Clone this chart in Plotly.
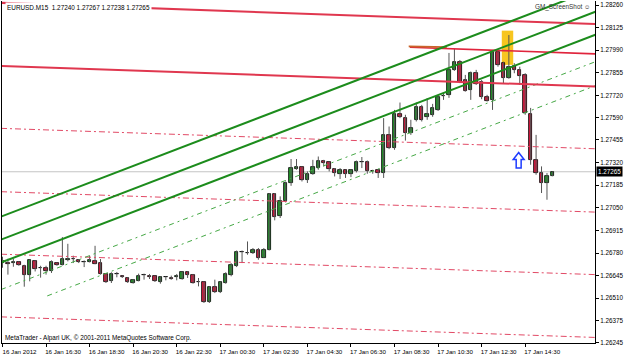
import plotly.graph_objects as go

# ---------------- data (EURUSD M15, 16 Jan 2012 14:30 -> 17 Jan 2012 15:45) ----------------
time_tick_index = [0, 8, 16, 24, 32, 40, 48, 56, 64, 72, 80, 88, 96]
time_tick_labels = ["16 Jan 2012", "16 Jan 16:30", "16 Jan 18:30", "16 Jan 20:30", "16 Jan 22:30",
                    "17 Jan 00:30", "17 Jan 02:30", "17 Jan 04:30", "17 Jan 06:30", "17 Jan 08:30",
                    "17 Jan 10:30", "17 Jan 12:30", "17 Jan 14:30"]

opens = [1.26734, 1.26722, 1.26722, 1.26724, 1.26704, 1.26651, 1.26730, 1.26691, 1.26691, 1.26670,
         1.26720, 1.26710, 1.26736, 1.26744, 1.26740, 1.26724, 1.26726, 1.26734, 1.26720, 1.26655,
         1.26611, 1.26655, 1.26645, 1.26631, 1.26601, 1.26615, 1.26646, 1.26643, 1.26641, 1.26609,
         1.26635, 1.26633, 1.26639, 1.26625, 1.26665, 1.26651, 1.26607, 1.26607, 1.26486, 1.26577,
         1.26545, 1.26601, 1.26651, 1.26704, 1.26784, 1.26780, 1.26780, 1.26800, 1.26750, 1.26800,
         1.27132, 1.26999, 1.27088, 1.27198, 1.27281, 1.27293, 1.27217, 1.27253, 1.27287, 1.27331,
         1.27321, 1.27281, 1.27253, 1.27273, 1.27253, 1.27267, 1.27321, 1.27326, 1.27267, 1.27273,
         1.27257, 1.27485, 1.27406, 1.27609, 1.27587, 1.27496, 1.27575, 1.27650, 1.27594, 1.27605,
         1.27634, 1.27715, 1.27724, 1.27873, 1.27922, 1.27813, 1.27754, 1.27853, 1.27803, 1.27710,
         1.27694, 1.27982, 1.27913, 1.27823, 1.27897, 1.27873, 1.27843, 1.27611, 1.27336, 1.27257,
         1.27198, 1.27240]
highs = [1.26758, 1.26746, 1.26746, 1.26730, 1.26710, 1.26740, 1.26736, 1.26704, 1.26704, 1.26736,
         1.26724, 1.26875, 1.26835, 1.26764, 1.26744, 1.26736, 1.26764, 1.26823, 1.26744, 1.26661,
         1.26665, 1.26667, 1.26646, 1.26635, 1.26625, 1.26657, 1.26657, 1.26655, 1.26645, 1.26641,
         1.26641, 1.26645, 1.26655, 1.26670, 1.26670, 1.26655, 1.26631, 1.26611, 1.26581, 1.26621,
         1.26611, 1.26665, 1.26720, 1.26795, 1.26795, 1.26849, 1.26810, 1.26810, 1.26810, 1.27138,
         1.27138, 1.27118, 1.27207, 1.27341, 1.27341, 1.27297, 1.27267, 1.27336, 1.27356, 1.27336,
         1.27326, 1.27287, 1.27287, 1.27277, 1.27281, 1.27332, 1.27353, 1.27332, 1.27277, 1.27281,
         1.27585, 1.27535, 1.27634, 1.27678, 1.27605, 1.27575, 1.27678, 1.27664, 1.27704, 1.27670,
         1.27724, 1.27736, 1.27974, 1.27998, 1.27932, 1.27843, 1.27863, 1.27873, 1.27813, 1.27724,
         1.27992, 1.27992, 1.27922, 1.28081, 1.27913, 1.27892, 1.27853, 1.27646, 1.27485, 1.27297,
         1.27257, 1.27267]
lows = [1.26692, 1.26651, 1.26698, 1.26704, 1.26579, 1.26611, 1.26670, 1.26633, 1.26651, 1.26661,
        1.26704, 1.26706, 1.26730, 1.26720, 1.26720, 1.26696, 1.26724, 1.26713, 1.26651, 1.26601,
        1.26601, 1.26635, 1.26631, 1.26601, 1.26597, 1.26611, 1.26621, 1.26625, 1.26607, 1.26597,
        1.26617, 1.26621, 1.26617, 1.26621, 1.26631, 1.26597, 1.26581, 1.26482, 1.26482, 1.26541,
        1.26541, 1.26597, 1.26641, 1.26696, 1.26720, 1.26770, 1.26774, 1.26740, 1.26750, 1.26796,
        1.26975, 1.26989, 1.27082, 1.27181, 1.27277, 1.27207, 1.27198, 1.27247, 1.27277, 1.27297,
        1.27267, 1.27237, 1.27222, 1.27228, 1.27233, 1.27261, 1.27287, 1.27253, 1.27253, 1.27228,
        1.27228, 1.27400, 1.27396, 1.27585, 1.27451, 1.27485, 1.27565, 1.27565, 1.27575, 1.27593,
        1.27628, 1.27694, 1.27706, 1.27867, 1.27794, 1.27743, 1.27694, 1.27783, 1.27698, 1.27684,
        1.27634, 1.27892, 1.27794, 1.27820, 1.27853, 1.27783, 1.27605, 1.27307, 1.27247, 1.27138,
        1.27098, 1.27238]
closes = [1.26722, 1.26713, 1.26728, 1.26710, 1.26651, 1.26736, 1.26685, 1.26692, 1.26670, 1.26724,
          1.26706, 1.26744, 1.26744, 1.26744, 1.26724, 1.26724, 1.26736, 1.26716, 1.26655, 1.26607,
          1.26655, 1.26655, 1.26635, 1.26605, 1.26621, 1.26645, 1.26646, 1.26639, 1.26611, 1.26637,
          1.26635, 1.26627, 1.26641, 1.26665, 1.26646, 1.26601, 1.26605, 1.26486, 1.26577, 1.26545,
          1.26605, 1.26655, 1.26710, 1.26784, 1.26784, 1.26782, 1.26800, 1.26750, 1.26800, 1.27132,
          1.26995, 1.27092, 1.27198, 1.27287, 1.27293, 1.27217, 1.27253, 1.27291, 1.27331, 1.27317,
          1.27281, 1.27257, 1.27273, 1.27253, 1.27273, 1.27326, 1.27323, 1.27267, 1.27267, 1.27257,
          1.27482, 1.27406, 1.27607, 1.27594, 1.27496, 1.27525, 1.27650, 1.27575, 1.27611, 1.27646,
          1.27714, 1.27718, 1.27873, 1.27922, 1.27803, 1.27749, 1.27853, 1.27789, 1.27710, 1.27690,
          1.27982, 1.27903, 1.27823, 1.27889, 1.27873, 1.27837, 1.27615, 1.27336, 1.27257, 1.27198,
          1.27237, 1.27265]

price_ticks = [1.28260, 1.28125, 1.27990, 1.27855, 1.27720, 1.27590, 1.27455, 1.27320,
               1.27185, 1.27050, 1.26915, 1.26780, 1.26645, 1.26510, 1.26375, 1.26245]
bid_price = 1.27265

# chart objects (bar index, price)
ray_x = [-0.27, 109.0]
green_channel_1 = [1.26997, 1.28358]
green_channel_2 = [1.26860, 1.28221]
green_channel_3 = [1.26723, 1.28084]
green_dash_1 = [1.26562, 1.27923]
green_dash_2_x = [8.22, 109.0]
green_dash_2 = [1.26524, 1.27780]
red_line_1 = [1.28273, 1.28146]
red_line_3 = [1.27897, 1.27773]
red_line_2_x = [74.82, 109.0]
red_line_2 = [1.28008, 1.27968]
orange_seg_x = [74.6, 81.6]
orange_seg = [1.28013, 1.28009]
red_dash_a = [1.27524, 1.27402]
red_dash_c = [1.27146, 1.27024]
red_dash_b = [1.26773, 1.26651]
red_dash_d = [1.26399, 1.26276]
rect_x = [91.7, 93.8]
rect_y = [1.27903, 1.28107]
arrow_tip = (94.8, 1.27380)

# ---------------- figure ----------------
n = len(opens)
idx = list(range(n))
BAR_PX = 5.5            # pixels per bar
PRICE_PER_PX = 0.0000596

fig = go.Figure()

# bid line
fig.add_shape(type="line", xref="paper", x0=0, x1=1, yref="y", y0=bid_price, y1=bid_price,
              line=dict(color="#c4c4c4", width=1), layer="below")
# yellow rectangle
fig.add_shape(type="rect", x0=rect_x[0], x1=rect_x[1], y0=rect_y[0], y1=rect_y[1],
              fillcolor="#f7c520", line=dict(width=0), layer="below")

# wicks
wx, wy = [], []
for i in idx:
    wx += [i, i, None]
    wy += [lows[i], highs[i], None]
fig.add_trace(go.Scatter(x=wx, y=wy, mode="lines", line=dict(color="#555555", width=1),
                         hoverinfo="skip"))

# bodies
base = [min(o, c) for o, c in zip(opens, closes)]
height = [max(abs(c - o), 0.000005) for o, c in zip(opens, closes)]
colors = []
for o, c in zip(opens, closes):
    if abs(c - o) < 0.000005:
        colors.append("#000000")
    elif c > o:
        colors.append("#22962a")
    else:
        colors.append("#d8183f")
fig.add_trace(go.Bar(x=idx, y=height, base=base, width=0.64,
                     marker=dict(color=colors, line=dict(color="#000000", width=0.8)),
                     customdata=list(zip(opens, highs, lows, closes)),
                     hovertemplate="O %{customdata[0]}<br>H %{customdata[1]}<br>L %{customdata[2]}<br>C %{customdata[3]}<extra></extra>"))

def add_line(xs, ys, color, width, dash="solid"):
    fig.add_trace(go.Scatter(x=xs, y=ys, mode="lines", line=dict(color=color, width=width, dash=dash),
                             hoverinfo="skip"))

# red dash-dot parallel lines
for ys in (red_dash_a, red_dash_c, red_dash_b, red_dash_d):
    add_line(ray_x, ys, "#e24a66", 1, "6px,3px,2px,3px")
# green dashed lines
add_line(ray_x, green_dash_1, "#45a845", 1, "5px,4px,2px,4px")
add_line(green_dash_2_x, green_dash_2, "#45a845", 1, "5px,4px,2px,4px")
# solid red lines
add_line(ray_x, red_line_1, "#e0374f", 2)
add_line(ray_x, red_line_3, "#e0374f", 2)
add_line(red_line_2_x, red_line_2, "#e0243c", 1.6)
add_line(orange_seg_x, orange_seg, "#c8642a", 1.6)
# green channel
for ys in (green_channel_1, green_channel_2, green_channel_3):
    add_line(ray_x, ys, "#1c8c1c", 2)

# blue outline up-arrow (offsets in pixels from the tip)
ax, ay = arrow_tip
pts = [(0, 0), (5.5, 7), (2.5, 7), (2.5, 15.5), (-2.5, 15.5), (-2.5, 7), (-5.5, 7)]
path = "M " + " L ".join(f"{ax + px / BAR_PX},{ay - py * PRICE_PER_PX}" for px, py in pts) + " Z"
fig.add_shape(type="path", path=path, fillcolor="white", line=dict(color="#1e3cff", width=1.5))

FONT = "Liberation Sans, Arial, sans-serif"

fig.update_layout(
    width=625, height=356,
    margin=dict(l=1, r=25, t=1, b=13),
    paper_bgcolor="white", plot_bgcolor="white",
    showlegend=False, bargap=0,
    font=dict(family=FONT, size=6.3, color="black"),
    xaxis=dict(range=[-0.09, 108.82], tickvals=time_tick_index, ticktext=time_tick_labels,
               ticks="outside", ticklen=3, tickcolor="black", tickwidth=1,
               showline=True, linecolor="black", linewidth=1, showgrid=False, zeroline=False,
               tickfont=dict(family=FONT, size=6.2, color="black"), ticklabelshift=17,
               fixedrange=True),
    yaxis=dict(range=[1.26243, 1.28284], side="right", tickvals=price_ticks,
               ticktext=[f"{v:.5f}" for v in price_ticks],
               ticks="outside", ticklen=3, tickcolor="black", tickwidth=1,
               showline=True, mirror=True, linecolor="black", linewidth=1,
               showgrid=False, zeroline=False,
               tickfont=dict(family=FONT, size=6.3, color="black"), fixedrange=True),
)

fig.add_annotation(xref="paper", yref="paper", x=3 / 599, y=1 - 6 / 342, xanchor="left", yanchor="middle",
                   text="EURUSD.M15  1.27240 1.27267 1.27238 1.27265", showarrow=False,
                   font=dict(family=FONT, size=6.4, color="black"), bgcolor="white", borderpad=1)
fig.add_annotation(xref="paper", yref="paper", x=1 / 599, y=5 / 342, xanchor="left", yanchor="middle",
                   text="MetaTrader - Alpari UK, © 2001-2011 MetaQuotes Software Corp.", showarrow=False,
                   font=dict(family=FONT, size=6.4, color="black"))
fig.add_annotation(xref="paper", yref="paper", x=597 / 599, y=1 - 6 / 342, xanchor="right", yanchor="middle",
                   text="GM_ScreenShot ☺", showarrow=False,
                   font=dict(family=FONT, size=6.4, color="#333333"))
fig.add_annotation(xref="paper", yref="y", x=1.0, y=bid_price, xanchor="left", yanchor="middle",
                   text="1.27265", showarrow=False, xshift=1,
                   font=dict(family=FONT, size=6.3, color="white"), bgcolor="black", borderpad=1)

fig.write_html("out.html")
